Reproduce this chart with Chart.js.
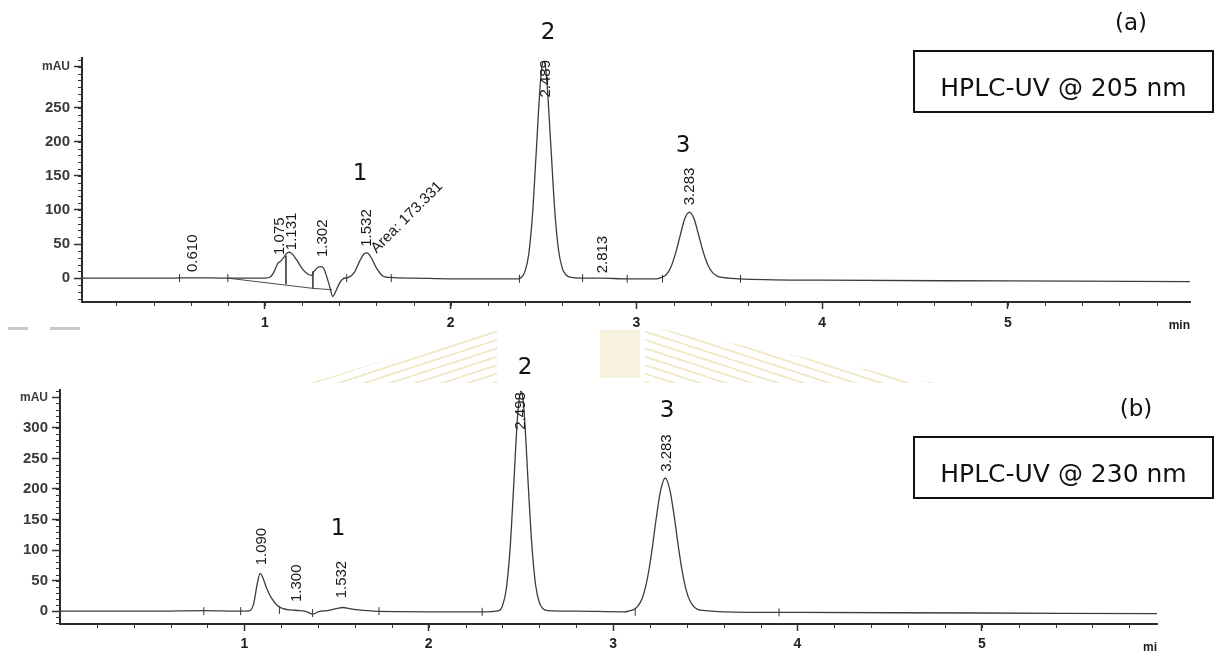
<!DOCTYPE html>
<html>
<head>
<meta charset="utf-8">
<script src="https://cdn.jsdelivr.net/npm/chart.js@4.4.0/dist/chart.umd.min.js"></script>
<style>
  body { margin: 0; width: 1221px; height: 654px; background: #fff; position: relative; overflow: hidden; }
  canvas { position: absolute; left: 0; }
  #topChart { top: 0; }
  #bottomChart { top: 340px; }
  .seal { position: absolute; opacity: 0.5; }
  .scan { position: absolute; height: 3px; background: #c8c8c8; }
  .big { position: absolute; font-family: "DejaVu Sans", sans-serif; font-size: 23px; color: #111; transform: translate(-50%, -50%); line-height: 1; }
  .box { position: absolute; left: 913px; width: 301px; height: 63px; border: 2px solid #111; box-sizing: border-box;
         font-family: "DejaVu Sans", sans-serif; font-size: 25px; color: #111; text-align: center; padding-top: 23px; line-height: 1; }
</style>
</head>
<body>
<!-- faded seal and smudges from the scanned page -->
<div class="seal" style="left:310px;top:326px;width:187px;height:57px;background:repeating-linear-gradient(-18deg,#e3d59a 0 2px,transparent 2px 8px);clip-path:polygon(0 100%,100% 0,100% 100%);"></div>
<div class="seal" style="left:600px;top:330px;width:40px;height:48px;background:#efe5bd;"></div>
<div class="seal" style="left:645px;top:326px;width:290px;height:57px;background:repeating-linear-gradient(18deg,#e3d59a 0 2px,transparent 2px 8px);clip-path:polygon(0 0,100% 100%,0 100%);"></div>
<div class="scan" style="left:8px;top:327px;width:20px;"></div>
<div class="scan" style="left:50px;top:327px;width:30px;"></div>

<canvas id="topChart" width="1221" height="340"></canvas>
<canvas id="bottomChart" width="1221" height="314"></canvas>

<div class="big" style="left:360px;top:172px;">1</div>
<div class="big" style="left:548px;top:31px;">2</div>
<div class="big" style="left:683px;top:144px;">3</div>
<div class="big" style="left:1131px;top:22px;">(a)</div>
<div class="box" style="top:50px;">HPLC-UV @ 205 nm</div>

<div class="big" style="left:338px;top:527px;">1</div>
<div class="big" style="left:525px;top:366px;">2</div>
<div class="big" style="left:667px;top:409px;">3</div>
<div class="big" style="left:1136px;top:408px;">(b)</div>
<div class="box" style="top:436px;">HPLC-UV @ 230 nm</div>

<script>
// (a) 205 nm trace
const topTime = [0.015, 0.30, 0.50, 0.60, 0.62, 0.80, 1.00, 1.03, 1.05, 1.07, 1.085, 1.10, 1.115, 1.13, 1.145, 1.17, 1.20, 1.23, 1.25,
  1.265, 1.285, 1.305, 1.32, 1.335, 1.35, 1.365, 1.38, 1.40, 1.42, 1.45, 1.48, 1.51, 1.535, 1.55, 1.57, 1.60, 1.63, 1.67, 1.80, 2.00,
  2.36, 2.38, 2.40, 2.42, 2.44, 2.46, 2.48, 2.49, 2.50, 2.51, 2.52, 2.54, 2.56, 2.58, 2.60, 2.62, 2.65, 2.70, 2.81, 2.95,
  3.11, 3.135, 3.16, 3.185, 3.21, 3.235, 3.26, 3.285, 3.31, 3.335, 3.36, 3.385, 3.41, 3.435, 3.46, 3.50, 3.55, 4.00, 5.00, 5.98];
const topSignal = [0, 0, 0, 0.5, 0.5, 0, 0, 2, 10, 22, 25, 30, 36, 38, 36, 27, 14, 6, 4,
  10, 16, 17, 12, 0, -14, -27, -20, -8, -1, 1, 8, 25, 36, 37, 31, 15, 4, 1, 0, -1,
  -1, 1, 10, 35, 92, 183, 277, 308, 318, 310, 280, 190, 100, 42, 15, 5, 1, 0, 0, -1,
  -1, 1, 5, 16, 36, 62, 87, 97, 87, 63, 38, 19, 8, 3, 1, 0, -1, -3, -4, -5];
// integration baseline and drop lines (null = break)
const topIntTime = [0.80, 1.258, 1.36, 1.36, 1.113, 1.113, 1.113, 1.258, 1.258];
const topIntSignal = [0, -15, -17, null, 33, -9, null, 10, -15];
// peak start/end marks on the baseline
const topMarkTime = [0.54, 0.80, 1.44, 1.68, 2.37, 2.71, 2.95, 3.14, 3.56];
const topMarkSignal = [0, 0, 0, 0, -1, 0, -1, -1, -1];
// retention time labels
const topLabelTime = [0.614, 1.082, 1.147, 1.314, 1.55, 2.51, 2.82, 3.29];
const topLabelSignal = [9, 34, 41, 31, 46, 265, 7, 107];
const topLabelText = ['0.610', '1.075', '1.131', '1.302', '1.532', '2.489', '2.813', '3.283'];

// (b) 230 nm trace
const botTime = [0.00, 0.50, 0.78, 0.98, 1.03, 1.05, 1.07, 1.085, 1.10, 1.12, 1.15, 1.18, 1.21, 1.25, 1.30, 1.34, 1.37, 1.40, 1.45,
  1.50, 1.535, 1.57, 1.62, 1.70, 2.00, 2.29, 2.38, 2.40, 2.42, 2.44, 2.46, 2.48, 2.49, 2.50, 2.51, 2.52, 2.54, 2.56, 2.58, 2.60,
  2.62, 2.65, 2.80, 3.06, 3.083, 3.108, 3.133, 3.158, 3.183, 3.208, 3.233, 3.258, 3.283, 3.308, 3.333, 3.358, 3.383, 3.408, 3.433,
  3.458, 3.50, 3.60, 4.00, 5.00, 5.95];
const botSignal = [0, 0, 1, 0, 1, 12, 45, 62, 55, 38, 20, 9, 4, 2, 1, -1, -5, -1, 1,
  4, 6, 4, 2, 0, -1, -1, 1, 9, 35, 97, 201, 311, 345, 360, 350, 315, 205, 105, 42, 14,
  4, 1, 0, -1, 0, 2, 8, 21, 49, 94, 150, 198, 218, 198, 152, 97, 52, 23, 9,
  3, 1, -1, -2, -3, -4];
const botMarkTime = [0.78, 0.98, 1.19, 1.37, 1.73, 2.29, 3.12, 3.90];
const botMarkSignal = [0, 0, 2, -3, 0, -1, -1, -2];
const botLabelTime = [1.096, 1.286, 1.53, 2.50, 3.29];
const botLabelSignal = [75, 15, 21, 297, 228];
const botLabelText = ['1.090', '1.300', '1.532', '2.498', '3.283'];

const toPoints = (xs, ys) => xs.map((x, i) => ({ x: x, y: ys[i] }));
const sansFont = '"Liberation Sans", Arial, sans-serif';

// minor ticks, peak labels and the unit under the time axis
const extras = {
  id: 'extras',
  afterDraw(chart, args, opts) {
    const ctx = chart.ctx;
    const xs = chart.scales.x;
    const ys = chart.scales.y;
    const area = chart.chartArea;
    ctx.save();
    ctx.strokeStyle = '#333';
    ctx.lineWidth = 1;
    ctx.beginPath();
    for (let v = opts.yMinorFrom; v <= opts.yMinorTo; v += 10) {
      const py = Math.round(ys.getPixelForValue(v)) + 0.5;
      ctx.moveTo(area.left - 4, py);
      ctx.lineTo(area.left, py);
    }
    for (let i = 1; i * 0.2 < xs.max; i++) {
      const px = Math.round(xs.getPixelForValue(i * 0.2)) + 0.5;
      ctx.moveTo(px, area.bottom);
      ctx.lineTo(px, area.bottom + 4);
    }
    ctx.stroke();

    ctx.fillStyle = '#1a1a1a';
    ctx.font = '15px ' + sansFont;
    ctx.textAlign = 'left';
    ctx.textBaseline = 'middle';
    opts.labelTime.forEach((t, i) => {
      ctx.save();
      ctx.translate(xs.getPixelForValue(t), ys.getPixelForValue(opts.labelSignal[i]));
      ctx.rotate(-Math.PI / 2);
      ctx.fillText(opts.labelText[i], 0, 0);
      ctx.restore();
    });
    if (opts.area) {
      ctx.save();
      ctx.translate(xs.getPixelForValue(opts.area.time), ys.getPixelForValue(opts.area.signal));
      ctx.rotate(-Math.PI / 4);
      ctx.fillText(opts.area.text, 0, 0);
      ctx.restore();
    }
    ctx.font = 'bold 12px ' + sansFont;
    ctx.textAlign = 'right';
    ctx.fillText(opts.unit, area.right, area.bottom + 24);
    ctx.restore();
  }
};

function makeChart(id, s) {
  const ctx = document.getElementById(id).getContext('2d');
  return new Chart(ctx, {
    type: 'line',
    data: {
      datasets: [{
        data: toPoints(s.time, s.signal),
        borderColor: '#3c3c3c',
        borderWidth: 1.3,
        pointRadius: 0,
        cubicInterpolationMode: 'monotone'
      }, {
        data: toPoints(s.intTime, s.intSignal),
        borderColor: '#4a4a4a',
        borderWidth: 1,
        pointRadius: 0,
        tension: 0,
        spanGaps: false
      }, {
        data: toPoints(s.markTime, s.markSignal),
        showLine: false,
        pointStyle: 'line',
        rotation: 90,
        pointRadius: 4,
        borderColor: '#333',
        borderWidth: 1
      }]
    },
    options: {
      responsive: false,
      animation: false,
      layout: { padding: s.padding },
      plugins: {
        legend: { display: false },
        tooltip: { enabled: false },
        extras: s.extras
      },
      scales: {
        x: {
          type: 'linear',
          min: s.xMin,
          max: s.xMax,
          afterFit: (scale) => { scale.height = s.xHeight; },
          afterBuildTicks: (scale) => { scale.ticks = [1, 2, 3, 4, 5].map(v => ({ value: v })); },
          grid: { drawOnChartArea: false, tickLength: 7, color: '#333', tickWidth: 1.5 },
          border: { color: '#2a2a2a', width: 2 },
          ticks: { color: '#222', padding: s.xPad, font: { family: sansFont, size: 14, weight: 'bold' } }
        },
        y: {
          min: s.yMin,
          max: s.yMax,
          afterFit: (scale) => { scale.width = s.yWidth; },
          afterBuildTicks: (scale) => { scale.ticks = s.yTicks.map(v => ({ value: v })); },
          grid: { drawOnChartArea: false, tickLength: 8, color: '#333', tickWidth: 1.5 },
          border: { color: '#2a2a2a', width: 2 },
          ticks: {
            color: '#3a3a3a',
            padding: 4,
            callback: (v) => v === s.unitTick ? 'mAU' : v,
            font: (c) => (c.tick && c.tick.value === s.unitTick)
              ? { family: sansFont, size: 12, weight: 'bold' }
              : { family: sansFont, size: 15, weight: 'bold' }
          }
        }
      }
    },
    plugins: [extras]
  });
}

const topChart = makeChart('topChart', {
  time: topTime, signal: topSignal,
  intTime: topIntTime, intSignal: topIntSignal,
  markTime: topMarkTime, markSignal: topMarkSignal,
  padding: { top: 58, right: 31, left: 0, bottom: 0 },
  xMin: 0.015, xMax: 5.98, xHeight: 38, xPad: 6,
  yMin: -35, yMax: 323, yWidth: 82,
  yTicks: [0, 50, 100, 150, 200, 250, 310], unitTick: 310,
  extras: {
    yMinorFrom: -30, yMinorTo: 320,
    labelTime: topLabelTime, labelSignal: topLabelSignal, labelText: topLabelText,
    area: { time: 1.585, signal: 40, text: 'Area: 173.331' },
    unit: 'min'
  }
});

const bottomChart = makeChart('bottomChart', {
  time: botTime, signal: botSignal,
  intTime: [], intSignal: [],
  markTime: botMarkTime, markSignal: botMarkSignal,
  padding: { top: 50, right: 64, left: 0, bottom: 0 },
  xMin: 0, xMax: 5.95, xHeight: 30, xPad: 5,
  yMin: -21, yMax: 362, yWidth: 60,
  yTicks: [0, 50, 100, 150, 200, 250, 300, 350], unitTick: 350,
  extras: {
    yMinorFrom: -20, yMinorTo: 360,
    labelTime: botLabelTime, labelSignal: botLabelSignal, labelText: botLabelText,
    area: null,
    unit: 'mi'
  }
});
</script>
</body>
</html>
